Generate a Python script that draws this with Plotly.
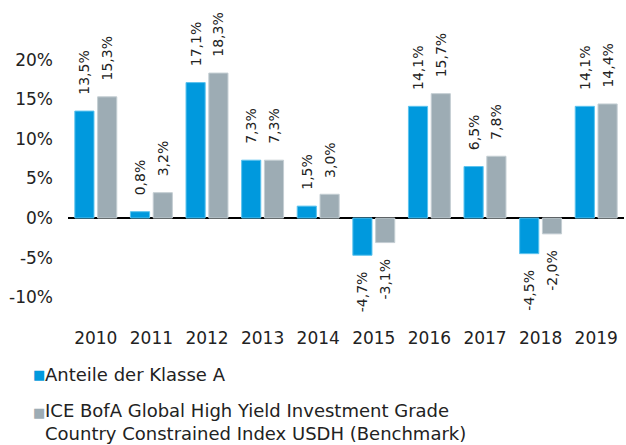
import plotly.graph_objects as go

years = ["2010", "2011", "2012", "2013", "2014", "2015", "2016", "2017", "2018", "2019"]
klasse_a = [13.5, 0.8, 17.1, 7.3, 1.5, -4.7, 14.1, 6.5, -4.5, 14.1]
benchmark = [15.3, 3.2, 18.3, 7.3, 3.0, -3.1, 15.7, 7.8, -2.0, 14.4]
tick_vals = [-10, -5, 0, 5, 10, 15, 20]
tick_text = ["-10%", "-5%", "0%", "5%", "10%", "15%", "20%"]
name_a = "Anteile der Klasse A"
name_b = "ICE BofA Global High Yield Investment Grade<br>Country Constrained Index USDH (Benchmark)"
color_a = "#0099DD"
color_b = "#9DACB4"

NB = "\u00a0\u00a0\u00a0"

def fmt(v):
    s = f"{v:.1f}".replace(".", ",") + "%"
    return NB + s if v >= 0 else s + NB

FONT = "'DejaVu Sans', sans-serif"
TXT = "#222222"

fig = go.Figure()
fig.add_trace(go.Bar(
    x=years, y=klasse_a, name=name_a,
    marker=dict(color=color_a, line=dict(color="#5CC3EE", width=1)),
    text=[fmt(v) for v in klasse_a], textposition="outside", textangle=-90,
    textfont=dict(size=14, color=TXT), cliponaxis=False,
    constraintext="none",
))
fig.add_trace(go.Bar(
    x=years, y=benchmark, name=name_b,
    marker=dict(color=color_b, line=dict(color="#C4CED3", width=1)),
    text=[fmt(v) for v in benchmark], textposition="outside", textangle=-90,
    textfont=dict(size=14, color=TXT), cliponaxis=False,
    constraintext="none",
))

# legend (swatch + label)
legend_items = [(name_a, color_a, -0.179, -0.179), (name_b, color_b, -0.305, -0.336)]
for name, col, ysw, ytx in legend_items:
    fig.add_annotation(
        xref="paper", yref="paper", x=-0.052, y=ysw, xanchor="center", yanchor="middle",
        showarrow=False, text="■", font=dict(size=13, color=col, family="DejaVu Sans"),
    )
    fig.add_annotation(
        xref="paper", yref="paper", x=-0.043, y=ytx, xanchor="left", yanchor="middle",
        align="left", showarrow=False, text=name, borderpad=0,
        font=dict(size=18, color=TXT),
    )

fig.update_layout(
    width=626, height=445,
    margin=dict(l=68, r=2, t=20, b=124, autoexpand=False),
    paper_bgcolor="white", plot_bgcolor="white",
    font=dict(family=FONT, size=17, color=TXT),
    barmode="group", bargap=0.18, bargroupgap=0.16,
    showlegend=False,
)
fig.update_xaxes(showgrid=False, showline=False, ticks="", tickfont=dict(size=17),
                 tickangle=0, ticklabelstandoff=5)
fig.update_yaxes(
    range=[-13, 25], tickvals=tick_vals, ticktext=tick_text,
    showgrid=False, zeroline=True, zerolinecolor="black", zerolinewidth=2,
    ticklabelstandoff=14, tickfont=dict(size=17),
)

fig.write_html("out.html", config={"displayModeBar": False},
               post_script="document.body.style.margin='0';")
